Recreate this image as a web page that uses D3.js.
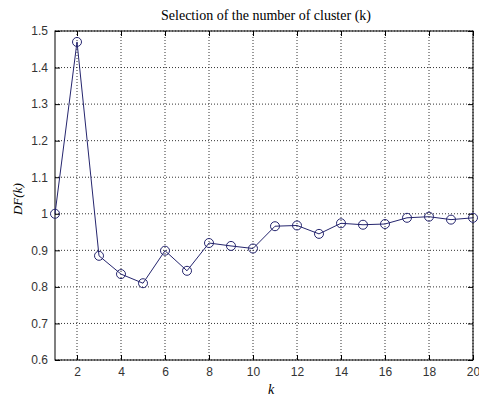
<!DOCTYPE html>
<html>
<head>
<meta charset="utf-8">
<script src="https://cdn.jsdelivr.net/npm/d3@7"></script>
<style>
  body { margin: 0; background: #fff; }
  .tick text { font-family: "Liberation Sans", Arial, sans-serif; font-size: 12px; fill: #333; }
</style>
</head>
<body>
<div id="chart"></div>
<script>
(function () {

  var kValues = [1, 2, 3, 4, 5, 6, 7, 8, 9, 10, 11, 12, 13, 14, 15, 16, 17, 18, 19, 20]
  var dfValues = [1.0, 1.47, 0.885, 0.835, 0.81, 0.899, 0.844, 0.92, 0.912, 0.905,
                  0.966, 0.968, 0.945, 0.974, 0.97, 0.972, 0.989, 0.992, 0.984, 0.989]
  var xTicks = [2, 4, 6, 8, 10, 12, 14, 16, 18, 20]
  var yTicks = [0.6, 0.7, 0.8, 0.9, 1, 1.1, 1.2, 1.3, 1.4, 1.5]

  var data = kValues.map(function (k, i) { return { k: k, v: dfValues[i] } })

  var margin = { top: 31, right: 6, bottom: 38, left: 55 }
  var width = 479 - margin.left - margin.right,
      height = 398 - margin.top - margin.bottom

  var svg = d3.select("#chart").append("svg")
      .attr("width", 479)
      .attr("height", 398)
    .append("g")
      .attr("transform", "translate(" + margin.left + "," + margin.top + ")")

  var x = d3.scaleLinear().domain([1, 20]).range([0, width])
  var y = d3.scaleLinear().domain([0.6, 1.5]).range([height, 0])

  // dotted grid
  svg.selectAll(".vgrid")
    .data(xTicks)
    .enter().append("line")
    .attr("x1", function (d) { return x(d) })
    .attr("x2", function (d) { return x(d) })
    .attr("y1", 0)
    .attr("y2", height)
    .attr("stroke", "#333")
    .attr("stroke-width", 1)
    .attr("stroke-dasharray", "1,2")

  svg.selectAll(".hgrid")
    .data(yTicks)
    .enter().append("line")
    .attr("x1", 0)
    .attr("x2", width)
    .attr("y1", function (d) { return y(d) })
    .attr("y2", function (d) { return y(d) })
    .attr("stroke", "#333")
    .attr("stroke-width", 1)
    .attr("stroke-dasharray", "1,2")

  // axes, ticks pointing inward
  svg.append("g")
    .attr("transform", "translate(0," + height + ")")
    .call(d3.axisBottom(x).tickValues(xTicks).tickSize(-5).tickPadding(7).tickFormat(d3.format("d")))
    .call(function (g) { g.select(".domain").remove() })

  svg.append("g")
    .call(d3.axisTop(x).tickValues(xTicks).tickSize(-5).tickFormat(""))
    .call(function (g) { g.select(".domain").remove() })

  svg.append("g")
    .call(d3.axisLeft(y).tickValues(yTicks).tickSize(-5).tickPadding(7).tickFormat(function (d) { return d3.format("")(+d.toFixed(1)) }))
    .call(function (g) { g.select(".domain").remove() })

  svg.append("g")
    .attr("transform", "translate(" + width + ",0)")
    .call(d3.axisRight(y).tickValues(yTicks).tickSize(-5).tickFormat(""))
    .call(function (g) { g.select(".domain").remove() })

  svg.append("rect")
    .attr("width", width)
    .attr("height", height)
    .attr("fill", "none")
    .attr("stroke", "#000")
    .attr("stroke-width", 1)

  var line = d3.line()
    .x(function (d) { return x(d.k) })
    .y(function (d) { return y(d.v) })

  svg.append("path")
    .datum(data)
    .attr("d", line)
    .attr("fill", "none")
    .attr("stroke", "#25256e")
    .attr("stroke-width", 1)

  svg.selectAll(".pt")
    .data(data)
    .enter().append("circle")
    .attr("cx", function (d) { return x(d.k) })
    .attr("cy", function (d) { return y(d.v) })
    .attr("r", 4.5)
    .attr("fill", "none")
    .attr("stroke", "#25256e")
    .attr("stroke-width", 1)

  svg.append("text")
    .attr("x", width / 2 + 2)
    .attr("y", -11)
    .attr("text-anchor", "middle")
    .style("font-family", "'Liberation Serif', 'Times New Roman', serif")
    .style("font-size", "14px")
    .text("Selection of the number of cluster (k)")

  svg.append("text")
    .attr("x", width / 2 + 7)
    .attr("y", height + 34)
    .attr("text-anchor", "middle")
    .style("font-family", "'Liberation Serif', 'Times New Roman', serif")
    .style("font-style", "italic")
    .style("font-size", "14px")
    .text("k")

  svg.append("text")
    .attr("transform", "translate(-33," + (y(1.04)) + ") rotate(-90)")
    .attr("text-anchor", "middle")
    .style("font-family", "'Liberation Serif', 'Times New Roman', serif")
    .style("font-style", "italic")
    .style("font-size", "13px")
    .text("DF(k)")

})()
</script>
</body>
</html>
